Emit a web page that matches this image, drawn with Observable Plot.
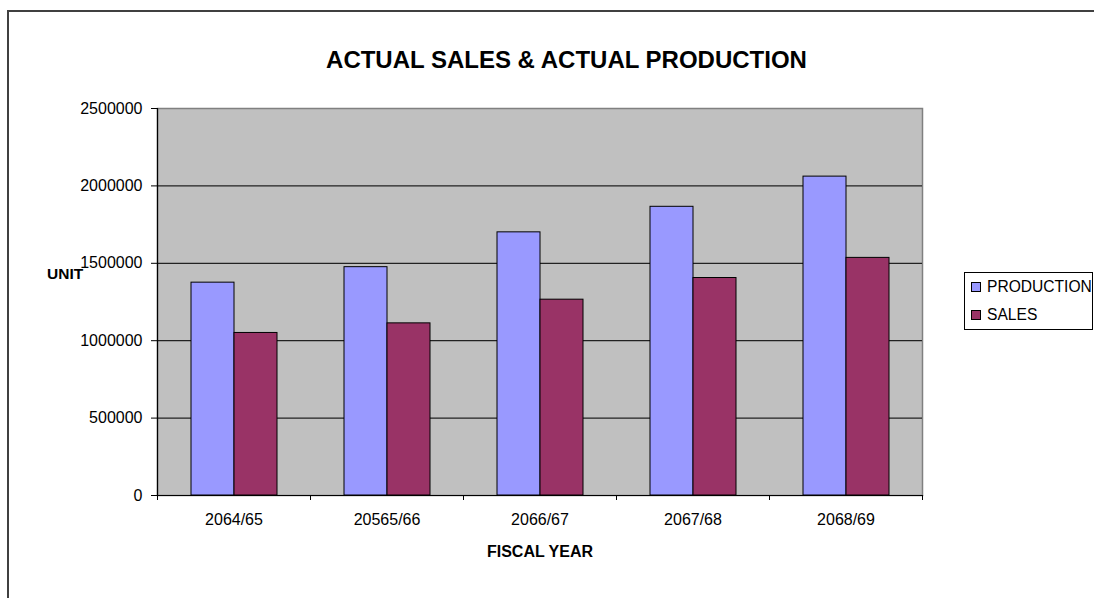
<!DOCTYPE html>
<html>
<head>
<meta charset="utf-8">
<script src="https://cdn.jsdelivr.net/npm/d3@7"></script>
<script src="https://cdn.jsdelivr.net/npm/@observablehq/plot@0.6"></script>
<style>
  html, body { margin: 0; padding: 0; background: #fff; overflow: hidden; }
  #wrap { position: relative; width: 1094px; height: 598px; overflow: hidden; font-family: "Liberation Sans", Arial, sans-serif; }
  #border { position: absolute; left: 7px; top: 10px; width: 1300px; height: 800px; border: 2px solid #404040; box-sizing: border-box; }
  #chart { position: absolute; left: 0; top: 0; }
  #title { position: absolute; left: 0; top: 48px; width: 1133px; text-align: center; font-weight: bold; font-size: 24px; line-height: 1; }
  #unit { position: absolute; left: 47px; top: 266px; font-weight: bold; font-size: 15.5px; line-height: 1; }
  #legend { position: absolute; left: 964px; top: 272px; width: 129px; height: 58px; border: 1px solid #000; box-sizing: border-box; overflow: hidden; background: #fff; }
  .row { position: absolute; left: 6px; white-space: nowrap; font-size: 15.6px; line-height: 1; }
  .sw { display: inline-block; width: 8px; height: 8px; border: 1px solid #000; vertical-align: baseline; margin-right: 6px; }
  g[aria-label="fx-axis label"] text { font-weight: bold; }
</style>
</head>
<body>
<div id="wrap">
  <div id="border"></div>
  <div id="chart"></div>
  <div id="title"></div>
  <div id="unit"></div>
  <div id="legend"></div>
</div>
<script>
const categories = ["2064/65", "20565/66", "2066/67", "2067/68", "2068/69"];
const seriesNames = ["PRODUCTION", "SALES"];
const production = [1375000, 1475000, 1700000, 1865000, 2060000];
const sales = [1050000, 1112000, 1265000, 1405000, 1535000];
const yTicks = [0, 500000, 1000000, 1500000, 2000000, 2500000];
const seriesColors = ["#9999FF", "#993366"];
const titleText = "ACTUAL SALES & ACTUAL PRODUCTION";
const yLabel = "UNIT";
const xLabel = "FISCAL YEAR";

const values = [production, sales];
const table = categories.flatMap((c, i) =>
  seriesNames.map((s, j) => ({year: c, series: s, value: values[j][i]}))
);

const W = 1094, H = 598, mL = 157, mR = 172, mT = 108, mB = 103;
const half = (W - mL - mR) / categories.length / 2;

const chart = Plot.plot({
  width: W,
  height: H,
  marginLeft: mL,
  marginRight: mR,
  marginTop: mT,
  marginBottom: mB,
  style: {fontFamily: "Liberation Sans, Arial, sans-serif", fontSize: "16px", color: "#000", background: "transparent"},
  fx: {domain: categories, padding: 0},
  x: {domain: seriesNames, paddingInner: 0, paddingOuter: 0.75, axis: null},
  y: {domain: [0, 2500000]},
  color: {domain: seriesNames, range: seriesColors},
  marks: [
    Plot.frame({facet: "super", fill: "#C0C0C0", stroke: "#808080", strokeWidth: 1.5}),
    Plot.ruleY(yTicks.slice(1, -1), {stroke: "#222", strokeWidth: 1.2}),
    Plot.barY(table, {fx: "year", x: "series", y: "value", fill: "series", stroke: "#000", strokeWidth: 1}),
    Plot.frame({facet: "super", anchor: "left", stroke: "#000", strokeWidth: 1.2}),
    Plot.frame({facet: "super", anchor: "bottom", stroke: "#000", strokeWidth: 1.2}),
    Plot.axisY({ticks: yTicks, tickFormat: d3.format("d"), tickSize: 6, tickPadding: 9, label: null, stroke: "#000"}),
    Plot.axisFx({anchor: "bottom", tickSize: 0, tickPadding: 18, label: xLabel, labelAnchor: "center", labelOffset: 61}),
    Plot.axisFx({anchor: "bottom", tickSize: 5, text: null, label: null, dx: -half}),
    Plot.axisFx({anchor: "bottom", ticks: [categories[categories.length - 1]], tickSize: 5, text: null, label: null, dx: half})
  ]
});
document.getElementById("chart").appendChild(chart);
document.getElementById("title").textContent = titleText;
document.getElementById("unit").textContent = yLabel;

const legend = document.getElementById("legend");
seriesNames.forEach((s, i) => {
  const row = document.createElement("div");
  row.className = "row";
  row.style.top = (6 + i * 28) + "px";
  const sw = document.createElement("span");
  sw.className = "sw";
  sw.style.background = seriesColors[i];
  row.appendChild(sw);
  row.appendChild(document.createTextNode(s));
  legend.appendChild(row);
});
</script>
</body>
</html>
